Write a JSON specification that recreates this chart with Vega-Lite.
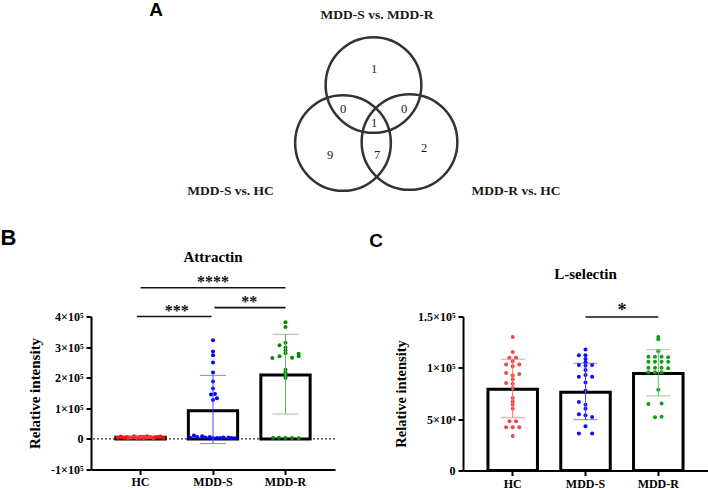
{
  "$schema": "https://vega.github.io/schema/vega-lite/v6.json",
  "background": "white",
  "padding": {"left": 0, "top": 0, "right": 0, "bottom": 0},
  "autosize": {"type": "pad"},
  "bounds": "flush",
  "spacing": 115.5,
  "config": {
    "view": {"stroke": null},
    "axis": {
      "labelFont": "Times New Roman, Liberation Serif, serif", "titleFont": "Times New Roman, Liberation Serif, serif",
      "labelFontWeight": "bold", "titleFontWeight": "bold",
      "labelColor": "#000", "titleColor": "#000",
      "domainColor": "#000", "tickColor": "#000",
      "domainWidth": 2, "tickWidth": 2, "tickSize": 5, "grid": false,
      "labelFontSize": 12, "titleFontSize": 15, "labelOverlap": false
    }
  },
  "datasets": {
    "venn_circles": [
      {"cx": 56.5, "cy": 23.2},
      {"cx": 50.4, "cy": 11.6},
      {"cx": 63.7, "cy": 11.8}
    ],
    "venn_labels": [
      {"u": 57.2, "v": 37.2, "label": "MDD-S vs. MDD-R"},
      {"u": 27.9, "v": 2, "label": "MDD-S vs. HC"},
      {"u": 85, "v": 2, "label": "MDD-R vs. HC"}
    ],
    "venn_counts": [
      {"u": 56.6, "v": 26.4, "n": "1"},
      {"u": 50.4, "v": 18.4, "n": "0"},
      {"u": 62.6, "v": 18.4, "n": "0"},
      {"u": 56.6, "v": 15.6, "n": "1"},
      {"u": 47.8, "v": 9.2, "n": "9"},
      {"u": 57.2, "v": 9.2, "n": "7"},
      {"u": 66.6, "v": 10.6, "n": "2"}
    ],
    "letters_small": [
      {"u": 13, "v": 38.3, "t": "A"},
      {"u": 57, "v": -8, "t": "C"}
    ],
    "letters_big": [
      {"u": -16.5, "v": -7.3, "t": "B"}
    ],
    "b_summary": [
      {"group": "HC", "mean": 5000, "lo": 2500, "hi": 7500},
      {"group": "MDD-S", "mean": 92300, "lo": -15400, "hi": 207700},
      {"group": "MDD-R", "mean": 208800, "lo": 81300, "hi": 341800}
    ],
    "b_points": [
      {"group": "HC", "slot": -7, "value": 3500},
      {"group": "HC", "slot": -6, "value": 5000},
      {"group": "HC", "slot": -5, "value": 4000},
      {"group": "HC", "slot": -4, "value": 6000},
      {"group": "HC", "slot": -3, "value": 3000},
      {"group": "HC", "slot": -2, "value": 5500},
      {"group": "HC", "slot": -1, "value": 4500},
      {"group": "HC", "slot": 0, "value": 3000},
      {"group": "HC", "slot": 1, "value": 6500},
      {"group": "HC", "slot": 2, "value": 4000},
      {"group": "HC", "slot": 3, "value": 5000},
      {"group": "HC", "slot": 4, "value": 3500},
      {"group": "HC", "slot": 5, "value": 6000},
      {"group": "HC", "slot": 6, "value": 4500},
      {"group": "HC", "slot": 7, "value": 3000},
      {"group": "HC", "slot": -6, "value": 8000},
      {"group": "HC", "slot": -4, "value": 2000},
      {"group": "HC", "slot": -2, "value": 9000},
      {"group": "HC", "slot": 0, "value": 7000},
      {"group": "HC", "slot": 2, "value": 8500},
      {"group": "HC", "slot": 4, "value": 1500},
      {"group": "HC", "slot": 6, "value": 7500},
      {"group": "HC", "slot": -1, "value": 1500},
      {"group": "HC", "slot": 1, "value": 2500},
      {"group": "MDD-S", "slot": 0, "value": 322000},
      {"group": "MDD-S", "slot": 0, "value": 286000},
      {"group": "MDD-S", "slot": 0, "value": 273000},
      {"group": "MDD-S", "slot": 0, "value": 250000},
      {"group": "MDD-S", "slot": 0, "value": 217000},
      {"group": "MDD-S", "slot": 0, "value": 187500},
      {"group": "MDD-S", "slot": 0, "value": 165000},
      {"group": "MDD-S", "slot": -0.6, "value": 145000},
      {"group": "MDD-S", "slot": 0.6, "value": 147000},
      {"group": "MDD-S", "slot": 0, "value": 127000},
      {"group": "MDD-S", "slot": 1.2, "value": 133000},
      {"group": "MDD-S", "slot": -6.8, "value": 3300},
      {"group": "MDD-S", "slot": -5.8, "value": 11000},
      {"group": "MDD-S", "slot": -4.8, "value": 6600},
      {"group": "MDD-S", "slot": -3.3, "value": 8900},
      {"group": "MDD-S", "slot": -2.3, "value": 4600},
      {"group": "MDD-S", "slot": -1, "value": 6600},
      {"group": "MDD-S", "slot": 0, "value": 3300},
      {"group": "MDD-S", "slot": 1.2, "value": 3300},
      {"group": "MDD-S", "slot": 2.2, "value": 3300},
      {"group": "MDD-S", "slot": 3.2, "value": 4600},
      {"group": "MDD-S", "slot": 4.7, "value": 4600},
      {"group": "MDD-S", "slot": 5.7, "value": 3300},
      {"group": "MDD-S", "slot": 6.7, "value": 2000},
      {"group": "MDD-R", "slot": 0, "value": 381600},
      {"group": "MDD-R", "slot": 0, "value": 366000},
      {"group": "MDD-R", "slot": 0, "value": 314000},
      {"group": "MDD-R", "slot": -1.8, "value": 306000},
      {"group": "MDD-R", "slot": 0, "value": 299000},
      {"group": "MDD-R", "slot": 0, "value": 289000},
      {"group": "MDD-R", "slot": 0, "value": 280000},
      {"group": "MDD-R", "slot": -4, "value": 264000},
      {"group": "MDD-R", "slot": -1.8, "value": 270000},
      {"group": "MDD-R", "slot": 2, "value": 265000},
      {"group": "MDD-R", "slot": 4, "value": 278600},
      {"group": "MDD-R", "slot": 4, "value": 270000},
      {"group": "MDD-R", "slot": 0, "value": 226000},
      {"group": "MDD-R", "slot": 0, "value": 217000},
      {"group": "MDD-R", "slot": 0, "value": 208500},
      {"group": "MDD-R", "slot": 0, "value": 198700},
      {"group": "MDD-R", "slot": -3.8, "value": 3300},
      {"group": "MDD-R", "slot": -2, "value": 4000},
      {"group": "MDD-R", "slot": 0, "value": 3300},
      {"group": "MDD-R", "slot": 2, "value": 3300},
      {"group": "MDD-R", "slot": 4, "value": 2500}
    ],
    "b_brackets": [
      {"g1": 1, "g2": 3, "gm": 2, "y": 494000, "label": "****"},
      {"g1": 0.95, "g2": 1.98, "gm": 1.5, "y": 400000, "label": "***"},
      {"g1": 2.02, "g2": 3, "gm": 2.5, "y": 429000, "label": "**"}
    ],
    "b_title": [{"group": "MDD-S", "y": 594000, "t": "Attractin"}],
    "c_summary": [
      {"group": "HC", "mean": 79100, "lo": 51400, "hi": 108400},
      {"group": "MDD-S", "mean": 76200, "lo": 49500, "hi": 104500},
      {"group": "MDD-R", "mean": 94500, "lo": 72700, "hi": 117700}
    ],
    "c_points": [
      {"group": "HC", "slot": 0, "value": 130000},
      {"group": "HC", "slot": 0, "value": 115500},
      {"group": "HC", "slot": -1, "value": 109700},
      {"group": "HC", "slot": 1, "value": 109700},
      {"group": "HC", "slot": 0, "value": 106500},
      {"group": "HC", "slot": -2, "value": 103300},
      {"group": "HC", "slot": 2, "value": 103300},
      {"group": "HC", "slot": 0, "value": 101500},
      {"group": "HC", "slot": -2, "value": 95000},
      {"group": "HC", "slot": 2, "value": 94000},
      {"group": "HC", "slot": 0, "value": 92500},
      {"group": "HC", "slot": 0, "value": 88800},
      {"group": "HC", "slot": -2, "value": 85300},
      {"group": "HC", "slot": 0, "value": 84600},
      {"group": "HC", "slot": 0, "value": 80400},
      {"group": "HC", "slot": 0, "value": 70500},
      {"group": "HC", "slot": 0, "value": 67300},
      {"group": "HC", "slot": 0, "value": 64100},
      {"group": "HC", "slot": 0, "value": 60200},
      {"group": "HC", "slot": -1, "value": 48000},
      {"group": "HC", "slot": 1, "value": 48000},
      {"group": "HC", "slot": -2, "value": 42200},
      {"group": "HC", "slot": 0, "value": 42200},
      {"group": "HC", "slot": 2, "value": 42200},
      {"group": "HC", "slot": 0, "value": 33500},
      {"group": "MDD-S", "slot": 0, "value": 117800},
      {"group": "MDD-S", "slot": -2, "value": 112300},
      {"group": "MDD-S", "slot": 0, "value": 112300},
      {"group": "MDD-S", "slot": 0, "value": 108500},
      {"group": "MDD-S", "slot": 0, "value": 105500},
      {"group": "MDD-S", "slot": -2, "value": 102700},
      {"group": "MDD-S", "slot": 0, "value": 102000},
      {"group": "MDD-S", "slot": 2, "value": 102700},
      {"group": "MDD-S", "slot": 0, "value": 97900},
      {"group": "MDD-S", "slot": 0, "value": 93000},
      {"group": "MDD-S", "slot": -2, "value": 91400},
      {"group": "MDD-S", "slot": 2, "value": 91400},
      {"group": "MDD-S", "slot": 0, "value": 85600},
      {"group": "MDD-S", "slot": 0, "value": 77600},
      {"group": "MDD-S", "slot": -2, "value": 66600},
      {"group": "MDD-S", "slot": 0, "value": 64100},
      {"group": "MDD-S", "slot": 0, "value": 60200},
      {"group": "MDD-S", "slot": -2, "value": 54700},
      {"group": "MDD-S", "slot": 0, "value": 53800},
      {"group": "MDD-S", "slot": 2, "value": 52000},
      {"group": "MDD-S", "slot": 0, "value": 43100},
      {"group": "MDD-S", "slot": -2, "value": 36100},
      {"group": "MDD-S", "slot": 2, "value": 36000},
      {"group": "MDD-R", "slot": 0, "value": 130000},
      {"group": "MDD-R", "slot": 0, "value": 127800},
      {"group": "MDD-R", "slot": 0, "value": 116200},
      {"group": "MDD-R", "slot": -3, "value": 110700},
      {"group": "MDD-R", "slot": -1, "value": 110700},
      {"group": "MDD-R", "slot": 1, "value": 110700},
      {"group": "MDD-R", "slot": 3, "value": 110200},
      {"group": "MDD-R", "slot": -3, "value": 105900},
      {"group": "MDD-R", "slot": -1, "value": 105900},
      {"group": "MDD-R", "slot": 1, "value": 105900},
      {"group": "MDD-R", "slot": 3, "value": 105900},
      {"group": "MDD-R", "slot": -3, "value": 100100},
      {"group": "MDD-R", "slot": -1, "value": 100100},
      {"group": "MDD-R", "slot": 1, "value": 100100},
      {"group": "MDD-R", "slot": 3, "value": 99600},
      {"group": "MDD-R", "slot": -3, "value": 95600},
      {"group": "MDD-R", "slot": -1, "value": 95600},
      {"group": "MDD-R", "slot": 1, "value": 95600},
      {"group": "MDD-R", "slot": 0, "value": 78600},
      {"group": "MDD-R", "slot": -3, "value": 64700},
      {"group": "MDD-R", "slot": 1, "value": 65200},
      {"group": "MDD-R", "slot": -1, "value": 51800},
      {"group": "MDD-R", "slot": 1, "value": 52300}
    ],
    "c_brackets": [
      {"g1": 2, "g2": 3, "gm": 2.5, "y": 149500, "label": "*"}
    ],
    "c_title": [{"group": "MDD-S", "y": 191400, "t": "L-selectin"}]
  },
  "vconcat": [
    {
      "width": 500,
      "height": 200,
      "layer": [
        {
          "data": {"name": "venn_circles"},
          "mark": {"type": "point", "shape": "circle", "filled": false, "size": 9160, "stroke": "#333333", "strokeWidth": 2.5, "opacity": 1},
          "encoding": {
            "x": {"field": "cx", "type": "quantitative", "scale": {"domain": [0, 100], "nice": false, "zero": false}, "axis": null},
            "y": {"field": "cy", "type": "quantitative", "scale": {"domain": [0, 40], "nice": false, "zero": false}, "axis": null}
          }
        },
        {
          "data": {"name": "venn_labels"},
          "mark": {"type": "text", "font": "Times New Roman, Liberation Serif, serif", "fontWeight": "bold", "fontSize": 13.5, "color": "#1a1a1a"},
          "encoding": {
            "x": {"field": "u", "type": "quantitative", "axis": null},
            "y": {"field": "v", "type": "quantitative", "axis": null},
            "text": {"field": "label"}
          }
        },
        {
          "data": {"name": "venn_counts"},
          "mark": {"type": "text", "font": "Times New Roman, Liberation Serif, serif", "fontSize": 12.5, "color": "#1a1a1a"},
          "encoding": {
            "x": {"field": "u", "type": "quantitative", "axis": null},
            "y": {"field": "v", "type": "quantitative", "axis": null},
            "text": {"field": "n"}
          }
        },
        {
          "data": {"name": "letters_small"},
          "mark": {"type": "text", "font": "Liberation Sans, Arial, sans-serif", "fontWeight": "bold", "fontSize": 19, "color": "#000"},
          "encoding": {
            "x": {"field": "u", "type": "quantitative", "axis": null},
            "y": {"field": "v", "type": "quantitative", "axis": null},
            "text": {"field": "t"}
          }
        },
        {
          "data": {"name": "letters_big"},
          "mark": {"type": "text", "font": "Liberation Sans, Arial, sans-serif", "fontWeight": "bold", "fontSize": 22, "color": "#000"},
          "encoding": {
            "x": {"field": "u", "type": "quantitative", "axis": null},
            "y": {"field": "v", "type": "quantitative", "axis": null},
            "text": {"field": "t"}
          }
        }
      ]
    },
    {
      "bounds": "flush",
      "spacing": 128,
      "hconcat": [
        {
          "width": 244,
          "height": 153,
          "encoding": {
            "y": {"type": "quantitative", "title": "Relative intensity",
                  "scale": {"domain": [-100000, 400000], "nice": false, "zero": false},
                  "axis": {"values": [-100000, 0, 100000, 200000, 300000, 400000],
                           "labelExpr": "datum.value == 0 ? '0' : (datum.value / 100000) + '×10⁵'",
                           "labelOverlap": false, "labelBound": false, "domain": true, "ticks": true, "zindex": 2,
                           "labelFontSize": 12, "titleFontSize": 15, "domainColor": "#000", "domainWidth": 2,
                           "tickColor": "#000", "tickWidth": 2, "tickSize": 5,
                           "titlePadding": 8, "labelPadding": 3}}
          },
          "layer": [
            {
              "layer": [
                {
                  "data": {"values": [{"mean": 0}]},
                  "mark": {"type": "rule", "strokeDash": [2, 2], "color": "#000", "strokeWidth": 1},
                  "encoding": {"y": {"field": "mean", "type": "quantitative"}}
                },
                {
                  "data": {"name": "b_summary"},
                  "mark": {"type": "bar", "fill": "white", "stroke": "#000", "strokeWidth": 3},
                  "encoding": {
                    "x": {"field": "group", "type": "nominal", "sort": ["HC", "MDD-S", "MDD-R"], "title": null,
                          "scale": {"type": "band", "domain": ["HC", "MDD-S", "MDD-R"], "paddingInner": 0.32, "paddingOuter": 0.343},
                          "axis": {"labelAngle": 0, "labelPadding": 2, "labelFontSize": 12, "domain": true, "ticks": true, "zindex": 2}},
                    "y": {"field": "mean", "type": "quantitative"}
                  }
                }
              ]
            },
            {
              "data": {"name": "b_points"},
              "mark": {"type": "point", "shape": "circle", "filled": true, "size": 16, "opacity": 1},
              "encoding": {
                "x": {"field": "group", "type": "nominal", "title": null, "axis": null,
                      "scale": {"type": "band", "domain": ["HC", "MDD-S", "MDD-R"], "paddingInner": 0.32, "paddingOuter": 0.343}},
                "xOffset": {"field": "slot", "type": "quantitative", "scale": {"domain": [-7.5, 7.5], "range": [0, 49.3]}},
                "y": {"field": "value", "type": "quantitative"},
                "color": {"field": "group", "type": "nominal", "legend": null,
                          "scale": {"domain": ["HC", "MDD-S", "MDD-R"], "range": ["#ff1010", "#0000ff", "#008a00"]}}
              }
            },
            {
              "data": {"name": "b_summary"},
              "encoding": {
                "x": {"field": "group", "type": "nominal", "title": null, "axis": null,
                      "scale": {"type": "band", "domain": ["HC", "MDD-S", "MDD-R"], "paddingInner": 0.32, "paddingOuter": 0.343}},
                "color": {"field": "group", "type": "nominal", "legend": null,
                          "scale": {"domain": ["HC", "MDD-S", "MDD-R"], "range": ["#ff6060", "#4a4aff", "#5fb55f"]}}
              },
              "layer": [
                {
                  "mark": {"type": "rule", "strokeWidth": 1},
                  "encoding": {
                    "y": {"field": "lo", "type": "quantitative"},
                    "y2": {"field": "hi"}
                  }
                },
                {
                  "mark": {"type": "tick", "size": 26, "thickness": 1},
                  "encoding": {"y": {"field": "lo", "type": "quantitative"}}
                },
                {
                  "mark": {"type": "tick", "size": 26, "thickness": 1},
                  "encoding": {"y": {"field": "hi", "type": "quantitative"}}
                }
              ]
            },
            {
              "data": {"name": "b_title"},
              "mark": {"type": "text", "font": "Times New Roman, Liberation Serif, serif", "fontWeight": "bold", "fontSize": 15, "color": "#000"},
              "encoding": {
                "x": {"field": "group", "type": "nominal", "title": null, "axis": null,
                      "scale": {"type": "band", "domain": ["HC", "MDD-S", "MDD-R"], "paddingInner": 0.32, "paddingOuter": 0.343}},
                "y": {"field": "y", "type": "quantitative"},
                "text": {"field": "t"}
              }
            },
            {
              "data": {"name": "b_brackets"},
              "layer": [
                {
                  "mark": {"type": "rule", "color": "#111", "strokeWidth": 1.6},
                  "encoding": {
                    "x": {"field": "g1", "type": "quantitative", "scale": {"domain": [0.3172, 3.6828], "nice": false, "zero": false}, "axis": null},
                    "x2": {"field": "g2"},
                    "y": {"field": "y", "type": "quantitative"}
                  }
                },
                {
                  "mark": {"type": "text", "font": "Times New Roman, Liberation Serif, serif", "fontWeight": "bold", "fontSize": 16, "baseline": "alphabetic", "dy": -1, "color": "#111"},
                  "encoding": {
                    "x": {"field": "gm", "type": "quantitative", "axis": null},
                    "y": {"field": "y", "type": "quantitative"},
                    "text": {"field": "label"}
                  }
                }
              ]
            }
          ],
          "resolve": {"scale": {"x": "independent", "color": "independent", "xOffset": "independent"}}
        },
        {
          "width": 245,
          "height": 154,
          "encoding": {
            "y": {"type": "quantitative", "title": "Relative intensity",
                  "scale": {"domain": [0, 150000], "nice": false, "zero": false},
                  "axis": {"values": [0, 50000, 100000, 150000],
                           "labelExpr": "datum.value == 0 ? '0' : datum.value < 100000 ? (datum.value / 10000) + '×10⁴' : (datum.value / 100000) + '×10⁵'",
                           "labelOverlap": false, "labelBound": false, "domain": true, "ticks": true, "zindex": 2,
                           "labelFontSize": 12, "titleFontSize": 14.5, "domainColor": "#000", "domainWidth": 2,
                           "tickColor": "#000", "tickWidth": 2, "tickSize": 5,
                           "titlePadding": 9, "labelPadding": 3}}
          },
          "layer": [
            {
              "data": {"name": "c_summary"},
              "mark": {"type": "bar", "fill": "white", "stroke": "#000", "strokeWidth": 3},
              "encoding": {
                "x": {"field": "group", "type": "nominal", "sort": ["HC", "MDD-S", "MDD-R"], "title": null,
                      "scale": {"type": "band", "domain": ["HC", "MDD-S", "MDD-R"], "paddingInner": 0.32, "paddingOuter": 0.343},
                      "axis": {"labelAngle": 0, "labelPadding": 3, "labelFontSize": 12, "domain": true, "ticks": true, "zindex": 2}},
                "y": {"field": "mean", "type": "quantitative"}
              }
            },
            {
              "data": {"name": "c_points"},
              "mark": {"type": "point", "shape": "circle", "filled": true, "size": 16, "opacity": 1},
              "encoding": {
                "x": {"field": "group", "type": "nominal", "title": null, "axis": null,
                      "scale": {"type": "band", "domain": ["HC", "MDD-S", "MDD-R"], "paddingInner": 0.32, "paddingOuter": 0.343}},
                "xOffset": {"field": "slot", "type": "quantitative", "scale": {"domain": [-7.5, 7.5], "range": [0, 49.5]}},
                "y": {"field": "value", "type": "quantitative"},
                "color": {"field": "group", "type": "nominal", "legend": null,
                          "scale": {"domain": ["HC", "MDD-S", "MDD-R"], "range": ["#f04545", "#0a0aff", "#14a014"]}}
              }
            },
            {
              "data": {"name": "c_summary"},
              "encoding": {
                "x": {"field": "group", "type": "nominal", "title": null, "axis": null,
                      "scale": {"type": "band", "domain": ["HC", "MDD-S", "MDD-R"], "paddingInner": 0.32, "paddingOuter": 0.343}},
                "color": {"field": "group", "type": "nominal", "legend": null,
                          "scale": {"domain": ["HC", "MDD-S", "MDD-R"], "range": ["#ff6a6a", "#4a4aff", "#5fc05f"]}}
              },
              "layer": [
                {
                  "mark": {"type": "rule", "strokeWidth": 1},
                  "encoding": {
                    "y": {"field": "lo", "type": "quantitative"},
                    "y2": {"field": "hi"}
                  }
                },
                {
                  "mark": {"type": "tick", "size": 24, "thickness": 1},
                  "encoding": {"y": {"field": "lo", "type": "quantitative"}}
                },
                {
                  "mark": {"type": "tick", "size": 24, "thickness": 1},
                  "encoding": {"y": {"field": "hi", "type": "quantitative"}}
                }
              ]
            },
            {
              "data": {"name": "c_title"},
              "mark": {"type": "text", "font": "Times New Roman, Liberation Serif, serif", "fontWeight": "bold", "fontSize": 15, "color": "#000"},
              "encoding": {
                "x": {"field": "group", "type": "nominal", "title": null, "axis": null,
                      "scale": {"type": "band", "domain": ["HC", "MDD-S", "MDD-R"], "paddingInner": 0.32, "paddingOuter": 0.343}},
                "y": {"field": "y", "type": "quantitative"},
                "text": {"field": "t"}
              }
            },
            {
              "data": {"name": "c_brackets"},
              "layer": [
                {
                  "mark": {"type": "rule", "color": "#111", "strokeWidth": 1.6},
                  "encoding": {
                    "x": {"field": "g1", "type": "quantitative", "scale": {"domain": [0.3172, 3.6828], "nice": false, "zero": false}, "axis": null},
                    "x2": {"field": "g2"},
                    "y": {"field": "y", "type": "quantitative"}
                  }
                },
                {
                  "mark": {"type": "text", "font": "Times New Roman, Liberation Serif, serif", "fontWeight": "bold", "fontSize": 18, "baseline": "alphabetic", "dy": -1, "color": "#111"},
                  "encoding": {
                    "x": {"field": "gm", "type": "quantitative", "axis": null},
                    "y": {"field": "y", "type": "quantitative"},
                    "text": {"field": "label"}
                  }
                }
              ]
            }
          ],
          "resolve": {"scale": {"x": "independent", "color": "independent", "xOffset": "independent"}}
        }
      ]
    }
  ]
}
